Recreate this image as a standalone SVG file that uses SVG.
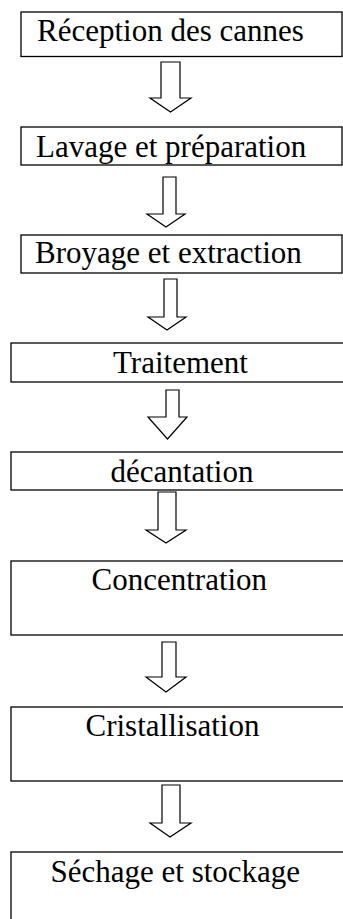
<svg xmlns="http://www.w3.org/2000/svg" width="343" height="919" viewBox="0 0 343 919">
<style>
.box{fill:#fff;stroke:#000;stroke-width:1.3}
.lbl{font-family:"Liberation Serif","Times New Roman",serif;font-size:31px;fill:#000}
.arr{fill:#fff;stroke:#000;stroke-width:1.2;stroke-linejoin:miter}
</style>
<rect width="343" height="919" fill="#fff"/>
<g id="n1"><rect class="box" x="21" y="12" width="321" height="44.5"/><text class="lbl" x="37" y="40.5">Réception des cannes</text></g>
<g id="n2"><rect class="box" x="21" y="127" width="321" height="38"/><text class="lbl" x="36" y="157">Lavage et préparation</text></g>
<g id="n3"><rect class="box" x="21" y="235" width="321" height="38"/><text class="lbl" x="35" y="263">Broyage et extraction</text></g>
<g id="n4"><rect class="box" x="11" y="343" width="345" height="39"/><text class="lbl" x="113" y="373">Traitement</text></g>
<g id="n5"><rect class="box" x="11" y="452" width="345" height="38"/><text class="lbl" x="110.5" y="481.5">décantation</text></g>
<g id="n6"><rect class="box" x="11" y="561" width="345" height="74"/><text class="lbl" x="91.5" y="590">Concentration</text></g>
<g id="n7"><rect class="box" x="11" y="707" width="345" height="74"/><text class="lbl" x="85.5" y="735.5">Cristallisation</text></g>
<g id="n8"><rect class="box" x="11" y="852" width="345" height="80"/><text class="lbl" x="50.5" y="881.5">Séchage et stockage</text></g>
<g id="connectors">
<polygon class="arr" points="161,62 180,62 180,98 191,98 170.5,112 150,98 161,98"/>
<polygon class="arr" points="163,177 176,177 176,214 185,214 166,227 147,214 163,214"/>
<polygon class="arr" points="164,279 177,279 177,317 186,317 167,330 148,317 164,317"/>
<polygon class="arr" points="166,390 179,390 179,417 187,417 167.5,439 148,417 166,417"/>
<polygon class="arr" points="158,492 176,492 176,530 186,530 166,543 146,530 158,530"/>
<polygon class="arr" points="162,642 176,642 176,677 186,677 166,692 146,677 162,677"/>
<polygon class="arr" points="162,785 180,785 180,823 191,823 170,837 150,823 162,823"/>
</g>
</svg>
